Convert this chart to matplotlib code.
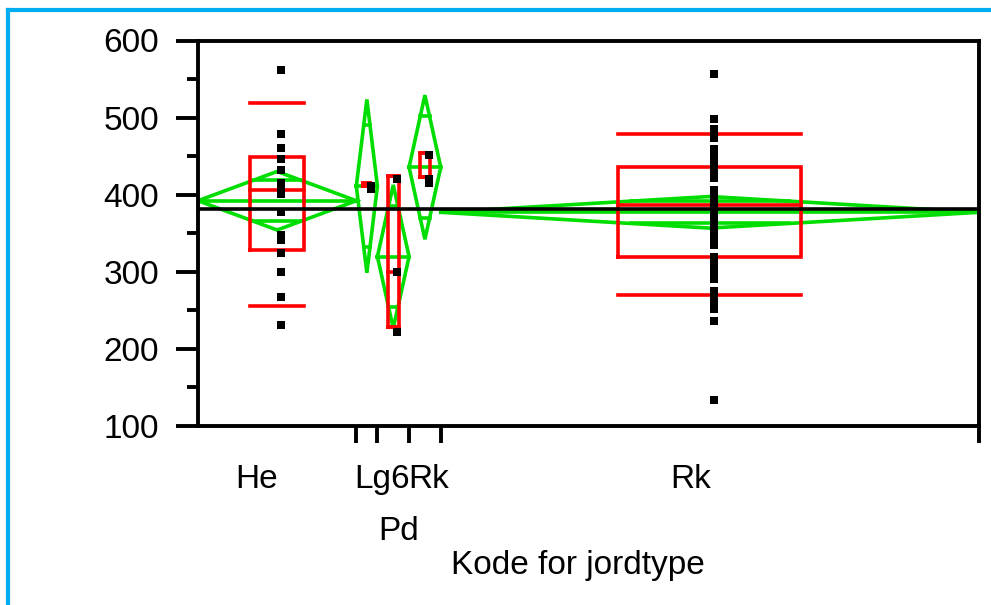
import matplotlib
matplotlib.use("Agg")
import matplotlib.pyplot as plt
from matplotlib.lines import Line2D
import numpy as np

plt.rcParams['font.family'] = ['Liberation Sans', 'DejaVu Sans']

# Soil type groups (x axis widths are proportional to group size)
groups = ["He", "Lg6", "Pd", "Rk", "Rk"]

values_he = [562, 479, 460, 446, 432, 415, 408, 401, 378, 348, 341, 324, 300, 267, 231]
values_lg6 = [411.5, 407]
values_pd = [420, 300, 222]
values_rk_small = [451, 420, 415]
values_rk = [556, 498, 236, 133,
             485, 479, 474,
             459, 452, 446, 440, 434, 428, 421,
             406, 400, 395, 390, 385, 380, 375, 370, 364, 358, 352, 346, 340, 334,
             319, 313, 307, 301, 296, 290,
             275, 269, 263, 257, 251,
             452, 440, 428, 400, 390, 380, 370, 358, 346, 313, 301, 263]
group_values = [values_he, values_lg6, values_pd, values_rk_small, values_rk]

# Means diamonds: group mean and 95% CI half-width
group_mean = [392, 411, 319.5, 435.5, 377]
group_ci = [38, 112.5, 93, 93.5, 20.5]
grand_mean = 381

# Quantiles: 10%, 25%, 50%, 75%, 90%
q10 = [255.8, 411.5, 228, 422.5, 269.6]
q25 = [328.5, 411.5, 228, 422.5, 318.6]
q50 = [405.3, 413, 300, 422.5, 386.5]
q75 = [449.3, 415, 424, 453.7, 435.4]
q90 = [518.5, 415, 424, 453.7, 479]

GREEN = "#00DD00"
RED = "#FF0000"
BLUE = "#00AEEF"
LW = 2.6

fig = plt.figure(figsize=(9.91, 6.05), dpi=100)
ax = fig.add_axes([198 / 991, 1 - 425.7 / 605, 781 / 991, (425.7 - 40.5) / 605])

counts = np.array([len(v) for v in group_values])
edges = np.concatenate([[0], np.cumsum(counts)])
total = edges[-1]
px = total / 781.0  # data units per pixel along x

for i in range(len(groups)):
    x0, x1 = edges[i], edges[i + 1]
    xc = (x0 + x1) / 2
    hw = (x1 - x0) / 2
    m, ci = group_mean[i], group_ci[i]

    # means diamond
    ax.plot([x0, xc, x1, xc, x0], [m, m + ci, m, m - ci, m],
            color=GREEN, lw=LW, zorder=2, solid_joinstyle='miter')
    ax.plot([x0, x1], [m, m], color=GREEN, lw=LW, zorder=2)
    # overlap marks
    ov = ci / np.sqrt(2)
    ow = hw * (1 - 1 / np.sqrt(2))
    for s in (1, -1):
        ax.plot([xc - ow, xc + ow], [m + s * ov] * 2, color=GREEN, lw=LW, zorder=2)

    # quantile box
    bw = (x1 - x0) * 0.17
    ax.plot([xc - bw, xc + bw, xc + bw, xc - bw, xc - bw],
            [q25[i], q25[i], q75[i], q75[i], q25[i]],
            color=RED, lw=LW, zorder=3, solid_joinstyle='miter')
    for q in (q10[i], q50[i], q90[i]):
        ax.plot([xc - bw, xc + bw], [q, q], color=RED, lw=LW, zorder=3)

    # observations
    xs = np.full(len(group_values[i]), xc + 4 * px)
    ax.plot(xs, group_values[i], linestyle='none', marker='s', ms=6.3,
            color='black', mec='black', mew=0, zorder=5)

ax.axhline(grand_mean, color='black', lw=LW, zorder=4)

ax.set_xlim(0, total)
ax.set_ylim(100, 600)

for sp in ax.spines.values():
    sp.set_linewidth(2.8)
    sp.set_color('black')

ax.set_yticks(np.arange(100, 601, 100))
ax.set_yticks(np.arange(150, 600, 100), minor=True)
ax.tick_params(axis='y', which='major', length=16, width=2.8, direction='out',
               labelsize=24, pad=12)
ax.tick_params(axis='y', which='minor', length=8, width=2.8, direction='out')

ax.set_xticks(edges[1:])
ax.set_xticklabels([])
ax.tick_params(axis='x', which='major', length=12.5, width=2.8, direction='out')

# Group labels below the axis (staggered where they would collide)
label_pos = [(256.7, 488), (382, 488), (399, 540), (428.5, 488), (691, 488)]
for name, (lx, ly) in zip(groups, label_pos):
    fig.text(lx / 991, 1 - ly / 605, name, ha='center', va='baseline', fontsize=24)

fig.text(578 / 991, 1 - 574 / 605, "Kode for jordtype", ha='center', va='baseline',
         fontsize=24)

# Frame
fig.add_artist(Line2D([7.5 / 991, 1.0], [1 - 10 / 605] * 2, transform=fig.transFigure,
                      color=BLUE, lw=3))
fig.add_artist(Line2D([7.5 / 991] * 2, [0.0, 1 - 10 / 605], transform=fig.transFigure,
                      color=BLUE, lw=3))

fig.savefig("out.png", dpi=100)
